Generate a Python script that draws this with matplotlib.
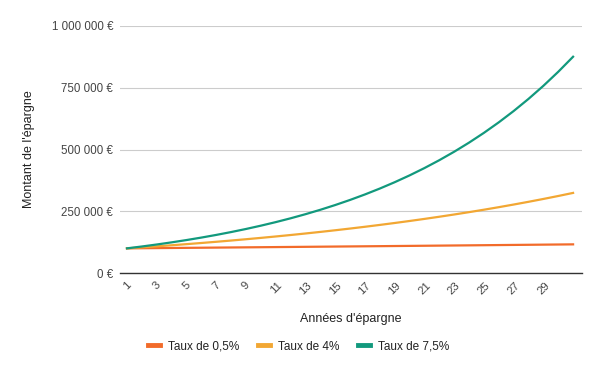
import matplotlib.pyplot as plt
from matplotlib.lines import Line2D
from matplotlib.ticker import FuncFormatter

plt.rcParams['font.family'] = ['Liberation Sans', 'DejaVu Sans']

# Years of saving (1..31) and amount for each rate, in euros
years = list(range(1, 32))
taux_05 = [100000, 100500, 101003, 101508, 102015, 102525, 103038, 103553, 104071, 104591,
           105114, 105640, 106168, 106699, 107232, 107768, 108307, 108849, 109393, 109940,
           110490, 111042, 111597, 112155, 112716, 113280, 113846, 114415, 114987, 115562,
           116140]
taux_4 = [100000, 104000, 108160, 112486, 116986, 121665, 126532, 131593, 136857, 142331,
          148024, 153945, 160103, 166507, 173168, 180094, 187298, 194790, 202582, 210685,
          219112, 227877, 236992, 246472, 256330, 266584, 277247, 288337, 299870, 311865,
          324340]
taux_75 = [100000, 107500, 115563, 124230, 133547, 143563, 154330, 165905, 178348, 191724,
           206103, 221561, 238178, 256041, 275244, 295888, 318079, 341935, 367580, 395149,
           424785, 456644, 490892, 527709, 567287, 609834, 655572, 704739, 757595, 814414,
           875495]
labels = ["Taux de 0,5%", "Taux de 4%", "Taux de 7,5%"]
colors = ["#F26B2A", "#F2A733", "#12997D"]
x_ticks = list(range(1, 30, 2))
y_ticks = [0, 250000, 500000, 750000, 1000000]

fig = plt.figure(figsize=(6, 3.71), dpi=100)
ax = fig.add_axes([0.2, 0.264, 0.77, 0.666])

for serie, lab, col in zip([taux_05, taux_4, taux_75], labels, colors):
    ax.plot(years, serie, color=col, linewidth=1.6, label=lab)

ax.set_xlim(0.53, 31.6)
ax.set_ylim(0, 1000000)
ax.set_yticks(y_ticks)
ax.yaxis.set_major_formatter(FuncFormatter(lambda v, p: f"{int(v):,}".replace(",", " ") + " €"))
ax.set_xticks(x_ticks)
ax.set_xticklabels([str(t) for t in x_ticks], rotation=45, ha="center", va="top")

ax.grid(axis="y", color="#cccccc", linewidth=0.8)
ax.set_axisbelow(True)
for side in ["top", "right", "left"]:
    ax.spines[side].set_visible(False)
ax.spines["bottom"].set_color("#333333")
ax.spines["bottom"].set_linewidth(1.0)
ax.tick_params(axis="y", length=0, labelsize=8.3, colors="#444444", pad=5)
ax.tick_params(axis="x", length=0, labelsize=8.2, colors="#444444", pad=5)

ax.set_xlabel("Années d'épargne", fontsize=9, color="#222222")
ax.set_ylabel("Montant de l'épargne", fontsize=9, color="#222222")
ax.xaxis.set_label_coords(0.5, -0.162)
ax.yaxis.set_label_coords(-0.183, 0.5)

# legend drawn by hand so that all three entries sit on the same line
leg_y = 1 - 345 / 371
for x0, lab, col in zip([148, 258, 358], labels, colors):
    fig.add_artist(Line2D([x0 / 600, (x0 + 12) / 600], [leg_y, leg_y],
                          color=col, linewidth=3.5, transform=fig.transFigure))
    fig.text((x0 + 20) / 600, leg_y, lab, fontsize=8.5, color="#222222",
             ha="left", va="center_baseline")

fig.savefig("out.png", dpi=100)
